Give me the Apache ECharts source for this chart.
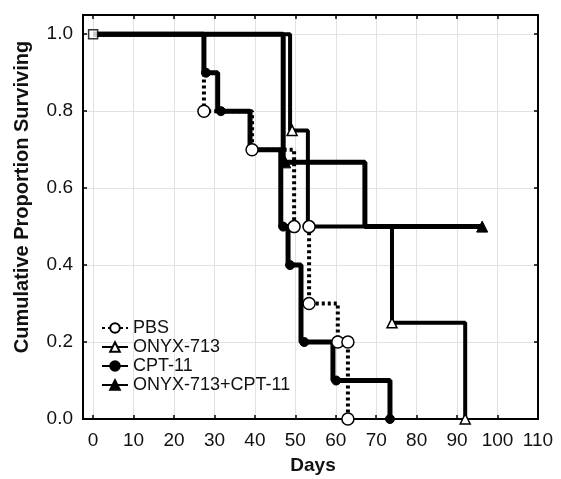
<!DOCTYPE html>
<html><head><meta charset="utf-8">
<script src="https://cdn.jsdelivr.net/npm/echarts@6/dist/echarts.min.js"></script>
<style>html,body{margin:0;padding:0;background:#fff}#c{width:561px;height:479px}</style>
</head><body><div id="c"></div>
<script>
// ---- data ----
const xTicks = [0,10,20,30,40,50,60,70,80,90,100,110];
const yTicks = [0,0.2,0.4,0.6,0.8,1.0];

const pbsDays  = [0, 27.4, 39.3, 49.7, 53.4, 53.4, 60.5, 63.0, 63.0];
const pbsSurv  = [1.0, 0.8, 0.7, 0.5, 0.5, 0.3, 0.2, 0.2, 0.0];
const pbsMark  = [0, 1, 1, 1, 1, 1, 1, 1, 1];

const onyxDays = [0, 48.7, 49.2, 53.1, 73.9, 92.0];
const onyxSurv = [1.0, 0.75, 0.75, 0.5, 0.25, 0.0];
const onyxMark = [0, 0, 1, 0, 1, 1];

const cptDays  = [0, 27.4, 27.9, 30.8, 31.6, 38.8, 46.4, 47.0, 48.2, 48.7, 51.4, 52.2, 59.3, 60.1, 73.4];
const cptSurv  = [1.0, 0.9, 0.9, 0.8, 0.8, 0.7, 0.5, 0.5, 0.4, 0.4, 0.2, 0.2, 0.1, 0.1, 0.0];
const cptMark  = [0, 0, 1, 0, 1, 0, 0, 1, 0, 1, 0, 1, 0, 1, 1];

const comboDays = [0, 47.0, 47.5, 67.2, 96.2];
const comboSurv = [1.0, 0.667, 0.667, 0.5, 0.5];
const comboMark = [0, 0, 1, 0, 1];

const names = ['PBS', 'ONYX-713', 'CPT-11', 'ONYX-713+CPT-11'];

// ---- build ----
function pts(d, s, m) {
  return d.map((x, i) => m[i] ? {value: [x, s[i]]} : {value: [x, s[i]], symbol: 'none'});
}
const FONT = '"Liberation Sans", Arial, sans-serif';
const chart = echarts.init(document.getElementById('c'), null, {renderer: 'canvas'});

const xBase = {
  type: 'value', min: -2.5, max: 110,
  axisLine: {show: true, onZero: false, lineStyle: {color: '#000', width: 2}},
  axisTick: {show: true, inside: true, length: 4, customValues: xTicks, lineStyle: {color: '#000', width: 1.5}},
};
const yBase = {
  type: 'value', min: 0, max: 1.05,
  axisLine: {show: true, onZero: false, lineStyle: {color: '#000', width: 2}},
  axisTick: {show: true, inside: true, length: 4, customValues: yTicks, lineStyle: {color: '#000', width: 1.5}},
};

chart.setOption({
  animation: false,
  textStyle: {fontFamily: FONT},
  grid: {left: 83, right: 23, top: 15, bottom: 60, show: true, borderColor: '#000', borderWidth: 2, backgroundColor: 'transparent'},
  xAxis: [
    Object.assign({}, xBase, {
      position: 'bottom',
      axisLabel: {customValues: xTicks, fontSize: 19, color: '#111', margin: 12, fontFamily: FONT},
      splitLine: {show: true, lineStyle: {color: '#e2e2e2', width: 1}}
    }),
    Object.assign({}, xBase, {position: 'top', axisLabel: {show: false}, splitLine: {show: false}})
  ],
  yAxis: [
    Object.assign({}, yBase, {
      position: 'left',
      axisLabel: {customValues: yTicks, fontSize: 19, color: '#111', margin: 10, fontFamily: FONT,
        formatter: v => v.toFixed(1)},
      splitLine: {show: true, lineStyle: {color: '#e2e2e2', width: 1}}
    }),
    Object.assign({}, yBase, {position: 'right', axisLabel: {show: false}, splitLine: {show: false}})
  ],
  legend: {
    orient: 'vertical', left: 96, top: 314, itemWidth: 26, itemHeight: 12, itemGap: 1,
    data: names,
    textStyle: {fontSize: 18, color: '#111', fontFamily: FONT},
    inactiveColor: '#000'
  },
  graphic: [
    {type: 'text', x: 22, y: 197, rotation: Math.PI / 2,
      style: {text: 'Cumulative Proportion Surviving', font: 'bold 20px ' + FONT, fill: '#111', align: 'center', verticalAlign: 'middle'}},
    {type: 'text', x: 313, y: 466,
      style: {text: 'Days', font: 'bold 19px ' + FONT, fill: '#111', align: 'center', verticalAlign: 'middle'}}
  ],
  series: [
    {type: 'line', xAxisIndex: 1, yAxisIndex: 1, data: [], silent: true},
    {name: names[3], type: 'line', step: 'end', data: pts(comboDays, comboSurv, comboMark),
      symbol: 'triangle', symbolSize: 11, showAllSymbol: true,
      lineStyle: {color: '#000', width: 5}, itemStyle: {color: '#000', borderColor: '#000', borderWidth: 1}, z: 2},
    {name: names[1], type: 'line', step: 'end', data: pts(onyxDays, onyxSurv, onyxMark),
      symbol: 'triangle', symbolSize: 10, showAllSymbol: true,
      lineStyle: {color: '#000', width: 4}, itemStyle: {color: '#fff', borderColor: '#000', borderWidth: 1.5}, z: 3},
    {name: names[2], type: 'line', step: 'end', data: pts(cptDays, cptSurv, cptMark),
      symbol: 'circle', symbolSize: 9, showAllSymbol: true,
      lineStyle: {color: '#000', width: 5}, itemStyle: {color: '#000', borderColor: '#000', borderWidth: 1}, z: 4},
    {name: names[0], type: 'line', step: 'end', data: pts(pbsDays, pbsSurv, pbsMark),
      symbol: 'circle', symbolSize: 12, showAllSymbol: true,
      lineStyle: {color: '#000', width: 4, type: [3, 3], cap: 'butt'}, itemStyle: {color: '#fff', borderColor: '#000', borderWidth: 1.5}, z: 5},
    {type: 'scatter', data: [[pbsDays[0], pbsSurv[0]]], symbol: 'rect', symbolSize: 9,
      itemStyle: {color: '#fff', borderColor: '#000', borderWidth: 1.5}, z: 6, silent: true}
  ]
});
</script></body></html>
